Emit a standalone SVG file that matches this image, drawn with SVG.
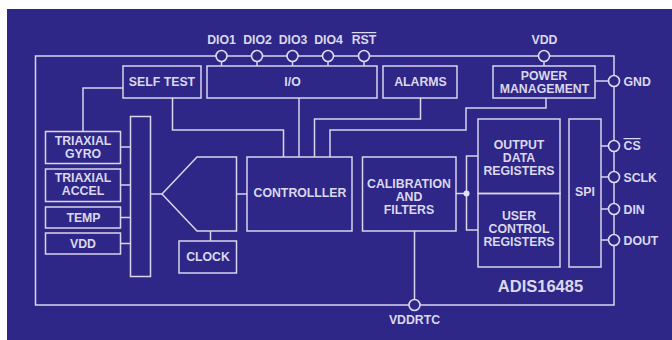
<svg xmlns="http://www.w3.org/2000/svg" width="672" height="340" viewBox="0 0 672 340">
<style>
.b{fill:none;stroke:#d9d5ec;stroke-width:1.5}
.c{fill:#2e2787;stroke:#dedaf0;stroke-width:1.6}
.l{fill:none;stroke:#d9d5ec;stroke-width:1.5}
text{font-family:"Liberation Sans",Arial,sans-serif;font-weight:700;font-size:12.300px;fill:#dcd8ee;text-anchor:middle}
.s{text-anchor:start}
</style>
<rect width="672" height="340" fill="#ffffff"/>
<rect x="7" y="9" width="665" height="331" fill="#2e2787"/>
<g id="connectors" class="l">
<path d="M35.500 56H614V305H35.500Z"/>
<path d="M221.500 56V66M257 56V66M292.500 56V66M328 56V66M364 56V66M544 56V66"/>
<path d="M123 88H83V131"/>
<path d="M172.500 98V130H283.500V157"/>
<path d="M299 98V157"/>
<path d="M420.500 98V119H314.500V157"/>
<path d="M546 98V108H466V130H330V157"/>
<path d="M595 81H614"/>
<path d="M601 146H614M601 177H614M601 209H614M601 240H614"/>
<path d="M120 147H130.500M120 185H130.500M120 217.500H130.500M120 243.500H130.500"/>
<path d="M150.500 194H162"/>
<path d="M236.500 194H247"/>
<path d="M210.500 231V241"/>
<path d="M456 193.500H466.500"/>
<path d="M478 156H466.500V230H478"/>
<path d="M414.500 231V305"/>
</g>
<circle cx="466.500" cy="193.500" r="3" fill="#e4e0f2"/>
<g id="pin-dio1"><circle class="c" cx="221.500" cy="56" r="5.500"/><text x="221.500" y="44">DIO1</text></g>
<g id="pin-dio2"><circle class="c" cx="257" cy="56" r="5.500"/><text x="257.500" y="44">DIO2</text></g>
<g id="pin-dio3"><circle class="c" cx="292.500" cy="56" r="5.500"/><text x="293" y="44">DIO3</text></g>
<g id="pin-dio4"><circle class="c" cx="328" cy="56" r="5.500"/><text x="328.500" y="44">DIO4</text></g>
<g id="pin-rst"><circle class="c" cx="364" cy="56" r="5.500"/><text x="364" y="44" text-decoration="overline">RST</text></g>
<g id="pin-vdd"><circle class="c" cx="544" cy="56" r="5.500"/><text x="544.500" y="44">VDD</text></g>
<g id="pin-gnd"><circle class="c" cx="614" cy="81" r="5.500"/><text class="s" x="623.500" y="85.500">GND</text></g>
<g id="pin-cs"><circle class="c" cx="614" cy="146" r="5.500"/><text class="s" x="623.500" y="150" text-decoration="overline">CS</text></g>
<g id="pin-sclk"><circle class="c" cx="614" cy="177" r="5.500"/><text class="s" x="623.500" y="182">SCLK</text></g>
<g id="pin-din"><circle class="c" cx="614" cy="209" r="5.500"/><text class="s" x="623.500" y="213.500">DIN</text></g>
<g id="pin-dout"><circle class="c" cx="614" cy="240" r="5.500"/><text class="s" x="623.500" y="244.500">DOUT</text></g>
<g id="pin-vddrtc"><circle class="c" cx="414.500" cy="305" r="5.500"/><text x="414.500" y="324">VDDRTC</text></g>
<g id="self-test"><rect class="b" x="123" y="66" width="78" height="32"/><text x="162" y="86">SELF TEST</text></g>
<g id="io"><rect class="b" x="207" y="66" width="170" height="32"/><text x="292.500" y="86">I/O</text></g>
<g id="alarms"><rect class="b" x="383" y="66" width="74" height="32"/><text x="420.500" y="86">ALARMS</text></g>
<g id="power"><rect class="b" x="493" y="66" width="102" height="32"/><text x="544" y="80">POWER</text><text x="544.500" y="93">MANAGEMENT</text></g>
<g id="gyro"><rect class="b" x="45.500" y="131.500" width="75" height="32"/><text x="83" y="145">TRIAXIAL</text><text x="83" y="158">GYRO</text></g>
<g id="accel"><rect class="b" x="45.500" y="169" width="75" height="32.500"/><text x="83" y="182">TRIAXIAL</text><text x="83" y="195">ACCEL</text></g>
<g id="temp"><rect class="b" x="45.500" y="207" width="75" height="21"/><text x="83.500" y="222">TEMP</text></g>
<g id="vdd"><rect class="b" x="45.500" y="233" width="75" height="21"/><text x="83" y="248">VDD</text></g>
<g id="mux"><rect class="b" x="130.500" y="116.500" width="20" height="160"/></g>
<g id="adc"><path class="b" d="M236.500 157H197L162 194L197 231H236.500Z"/></g>
<g id="clock"><rect class="b" x="179" y="241" width="57.500" height="32"/><text x="208" y="261">CLOCK</text></g>
<g id="controller"><rect class="b" x="247" y="157" width="105" height="74"/><text x="300" y="197">CONTROLLLER</text></g>
<g id="calibration"><rect class="b" x="362.500" y="157" width="93.500" height="74"/><text x="409" y="188">CALIBRATION</text><text x="409" y="201">AND</text><text x="409" y="214">FILTERS</text></g>
<g id="output"><rect class="b" x="478" y="119" width="82" height="74.500"/><text x="519" y="149">OUTPUT</text><text x="519" y="162">DATA</text><text x="519" y="175">REGISTERS</text></g>
<g id="user"><rect class="b" x="478" y="193.500" width="82" height="73.500"/><text x="519" y="220">USER</text><text x="519" y="233">CONTROL</text><text x="519" y="246">REGISTERS</text></g>
<g id="spi"><rect class="b" x="569" y="119" width="32" height="148"/><text x="585" y="196">SPI</text></g>
<text x="540.500" y="292" style="font-size:16.500px">ADIS16485</text>
</svg>
